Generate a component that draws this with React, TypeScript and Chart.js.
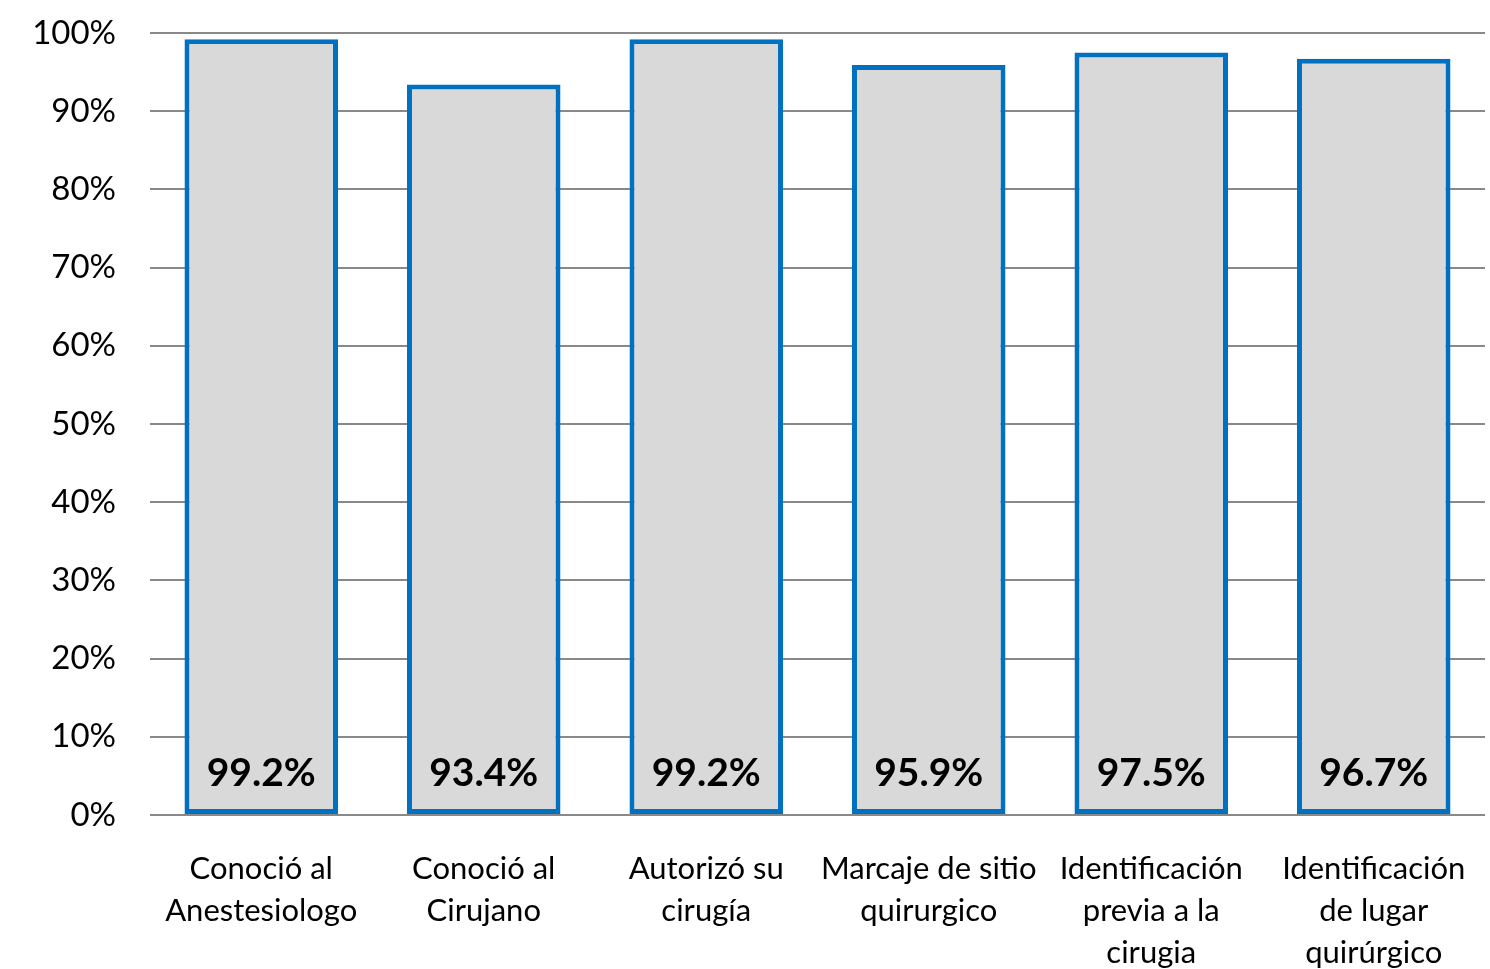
import React, { useEffect, useRef } from "react";
import { Chart, registerables } from "chart.js";

Chart.register(...registerables);

const categories: string[][] = [
  ["Conoció al", "Anestesiologo"],
  ["Conoció al", "Cirujano"],
  ["Autorizó su", "cirugía"],
  ["Marcaje de sitio", "quirurgico"],
  ["Identificación", "previa a la", "cirugia"],
  ["Identificación", "de lugar", "quirúrgico"],
];
const values: number[] = [99.2, 93.4, 99.2, 95.9, 97.5, 96.7];
const valueLabels: string[] = ["99.2%", "93.4%", "99.2%", "95.9%", "97.5%", "96.7%"];

const FONT = "Lato, 'Open Sans', sans-serif";

const valueLabelPlugin = {
  id: "valueLabels",
  afterDatasetsDraw(chart: any) {
    const { ctx } = chart;
    const meta = chart.getDatasetMeta(0);
    const yScale = chart.scales.y;
    const base = yScale.getPixelForValue(0);
    ctx.save();
    ctx.font = `bold 39px ${FONT}`;
    ctx.fillStyle = "#000000";
    ctx.textAlign = "center";
    ctx.textBaseline = "middle";
    meta.data.forEach((bar: any, i: number) => {
      ctx.fillText(valueLabels[i], bar.x, base - 42);
    });
    ctx.restore();
  },
};

export default function App() {
  const ref = useRef<HTMLCanvasElement | null>(null);
  useEffect(() => {
    document.body.style.margin = "0";
    const canvas = ref.current!;
    const chart = new Chart(canvas, {
      type: "bar",
      data: {
        labels: categories,
        datasets: [
          {
            data: values,
            backgroundColor: "#D9D9D9",
            borderColor: "#0070C0",
            borderWidth: 5,
            borderSkipped: false,
            categoryPercentage: 1,
            barPercentage: 0.69,
          },
        ],
      },
      options: {
        responsive: false,
        animation: false,
        devicePixelRatio: 1,
        layout: { padding: { top: 33, right: 5, left: 0, bottom: 0 } },
        plugins: { legend: { display: false }, tooltip: { enabled: false } },
        scales: {
          x: {
            grid: { display: false, drawTicks: false },
            border: { display: false },
            ticks: {
              color: "#000000",
              font: { family: FONT, size: 31, lineHeight: 1.35 },
              padding: 33,
              maxRotation: 0,
              autoSkip: false,
            },
            afterFit(scale: any) {
              scale.height = 154;
              scale.paddingLeft = 0;
              scale.paddingRight = 0;
            },
          },
          y: {
            min: 0,
            max: 100,
            grid: { color: "#898989", lineWidth: 2, drawTicks: false },
            border: { display: false },
            ticks: {
              stepSize: 10,
              color: "#000000",
              font: { family: FONT, size: 33 },
              padding: 34,
              callback: (v: any) => `${v}%`,
            },
            afterFit(scale: any) {
              scale.width = 150;
              scale.paddingTop = 0;
              scale.paddingBottom = 0;
            },
          },
        },
      },
      plugins: [valueLabelPlugin],
    });
    return () => chart.destroy();
  }, []);
  return (
    <div style={{ position: "absolute", left: 0, top: 0, width: 1490, height: 969, background: "#fff" }}>
      <canvas ref={ref} width={1490} height={969} style={{ width: 1490, height: 969 }} />
    </div>
  );
}
